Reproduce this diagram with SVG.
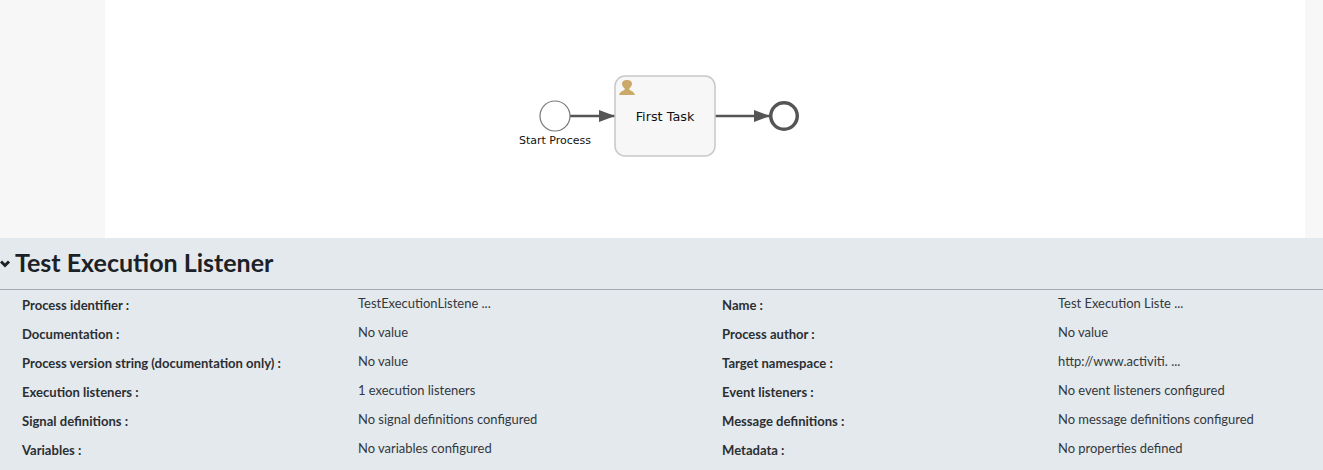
<svg xmlns="http://www.w3.org/2000/svg" width="1323" height="470" viewBox="0 0 1323 470">
<style>
.lb{font:700 13.05px Lato,"Liberation Sans",sans-serif;fill:#2b2f33}
.v{font:400 12.95px Lato,"Liberation Sans",sans-serif;fill:#33383c}
.d{font:400 11px "DejaVu Sans",Verdana,sans-serif;fill:#111}
.c{fill:none;stroke:#555;stroke-width:2.4}
</style>
<defs><marker id="a" markerUnits="userSpaceOnUse" markerWidth="16" markerHeight="12" refX="16" refY="6" orient="auto"><path d="M0 0L16 6L0 12Z" fill="#555"/></marker></defs>
<rect width="1323" height="470" fill="#fff"/>
<rect width="105" height="238" fill="#f7f7f7"/>
<rect x="1305" width="18" height="238" fill="#f7f7f7"/>
<rect y="238" width="1323" height="232" fill="#e4e9ed"/>
<g id="connectors">
<path class="c" d="M570 116H615" marker-end="url(#a)"/>
<path class="c" d="M715 116H770" marker-end="url(#a)"/>
</g>
<g id="start"><circle cx="555" cy="116" r="15" fill="#fff" stroke="#777" stroke-width="1.2"/><text class="d" x="555" y="144" text-anchor="middle">Start Process</text></g>
<g id="task"><rect x="615" y="76" width="100" height="80" rx="10" fill="#f7f7f7" stroke="#c8c8c8" stroke-width="1.5"/>
<path d="M619 95C620 91 624 91 625 89C623 87 622 85 622 84C622 81 624 80 627 80C630 80 632 81 632 84C632 85 631 87 629 89C630 91 634 91 635 95Z" fill="#cba968"/>
<text class="d" x="665" y="121" text-anchor="middle" style="font-size:12.8px">First Task</text></g>
<g id="end"><circle cx="784" cy="116" r="13.25" fill="#fff" stroke="#555" stroke-width="3.5"/></g>
<g id="header">
<path d="M1 261.500L5 265.500L9 261.500" fill="none" stroke="#1c2126" stroke-width="3"/>
<text x="15" y="272" style="font:700 25px Lato,'Liberation Sans',sans-serif;fill:#1c2126">Test Execution Listener</text>
<rect y="289" width="1323" height="1" fill="#a3a8ae"/>
</g>
<g id="properties">
<text class="lb" x="22" y="310">Process identifier :</text><text class="v" x="358" y="308">TestExecutionListene ...</text><text class="lb" x="722" y="310">Name :</text><text class="v" x="1058" y="308">Test Execution Liste ...</text>
<text class="lb" x="22" y="339">Documentation :</text><text class="v" x="358" y="337">No value</text><text class="lb" x="722" y="339">Process author :</text><text class="v" x="1058" y="337">No value</text>
<text class="lb" x="22" y="368">Process version string (documentation only) :</text><text class="v" x="358" y="366">No value</text><text class="lb" x="722" y="368">Target namespace :</text><text class="v" x="1058" y="366">http://www.activiti. ...</text>
<text class="lb" x="22" y="397">Execution listeners :</text><text class="v" x="358" y="395">1 execution listeners</text><text class="lb" x="722" y="397">Event listeners :</text><text class="v" x="1058" y="395">No event listeners configured</text>
<text class="lb" x="22" y="426">Signal definitions :</text><text class="v" x="358" y="424">No signal definitions configured</text><text class="lb" x="722" y="426">Message definitions :</text><text class="v" x="1058" y="424">No message definitions configured</text>
<text class="lb" x="22" y="455">Variables :</text><text class="v" x="358" y="453">No variables configured</text><text class="lb" x="722" y="455">Metadata :</text><text class="v" x="1058" y="453">No properties defined</text>
</g>
</svg>
